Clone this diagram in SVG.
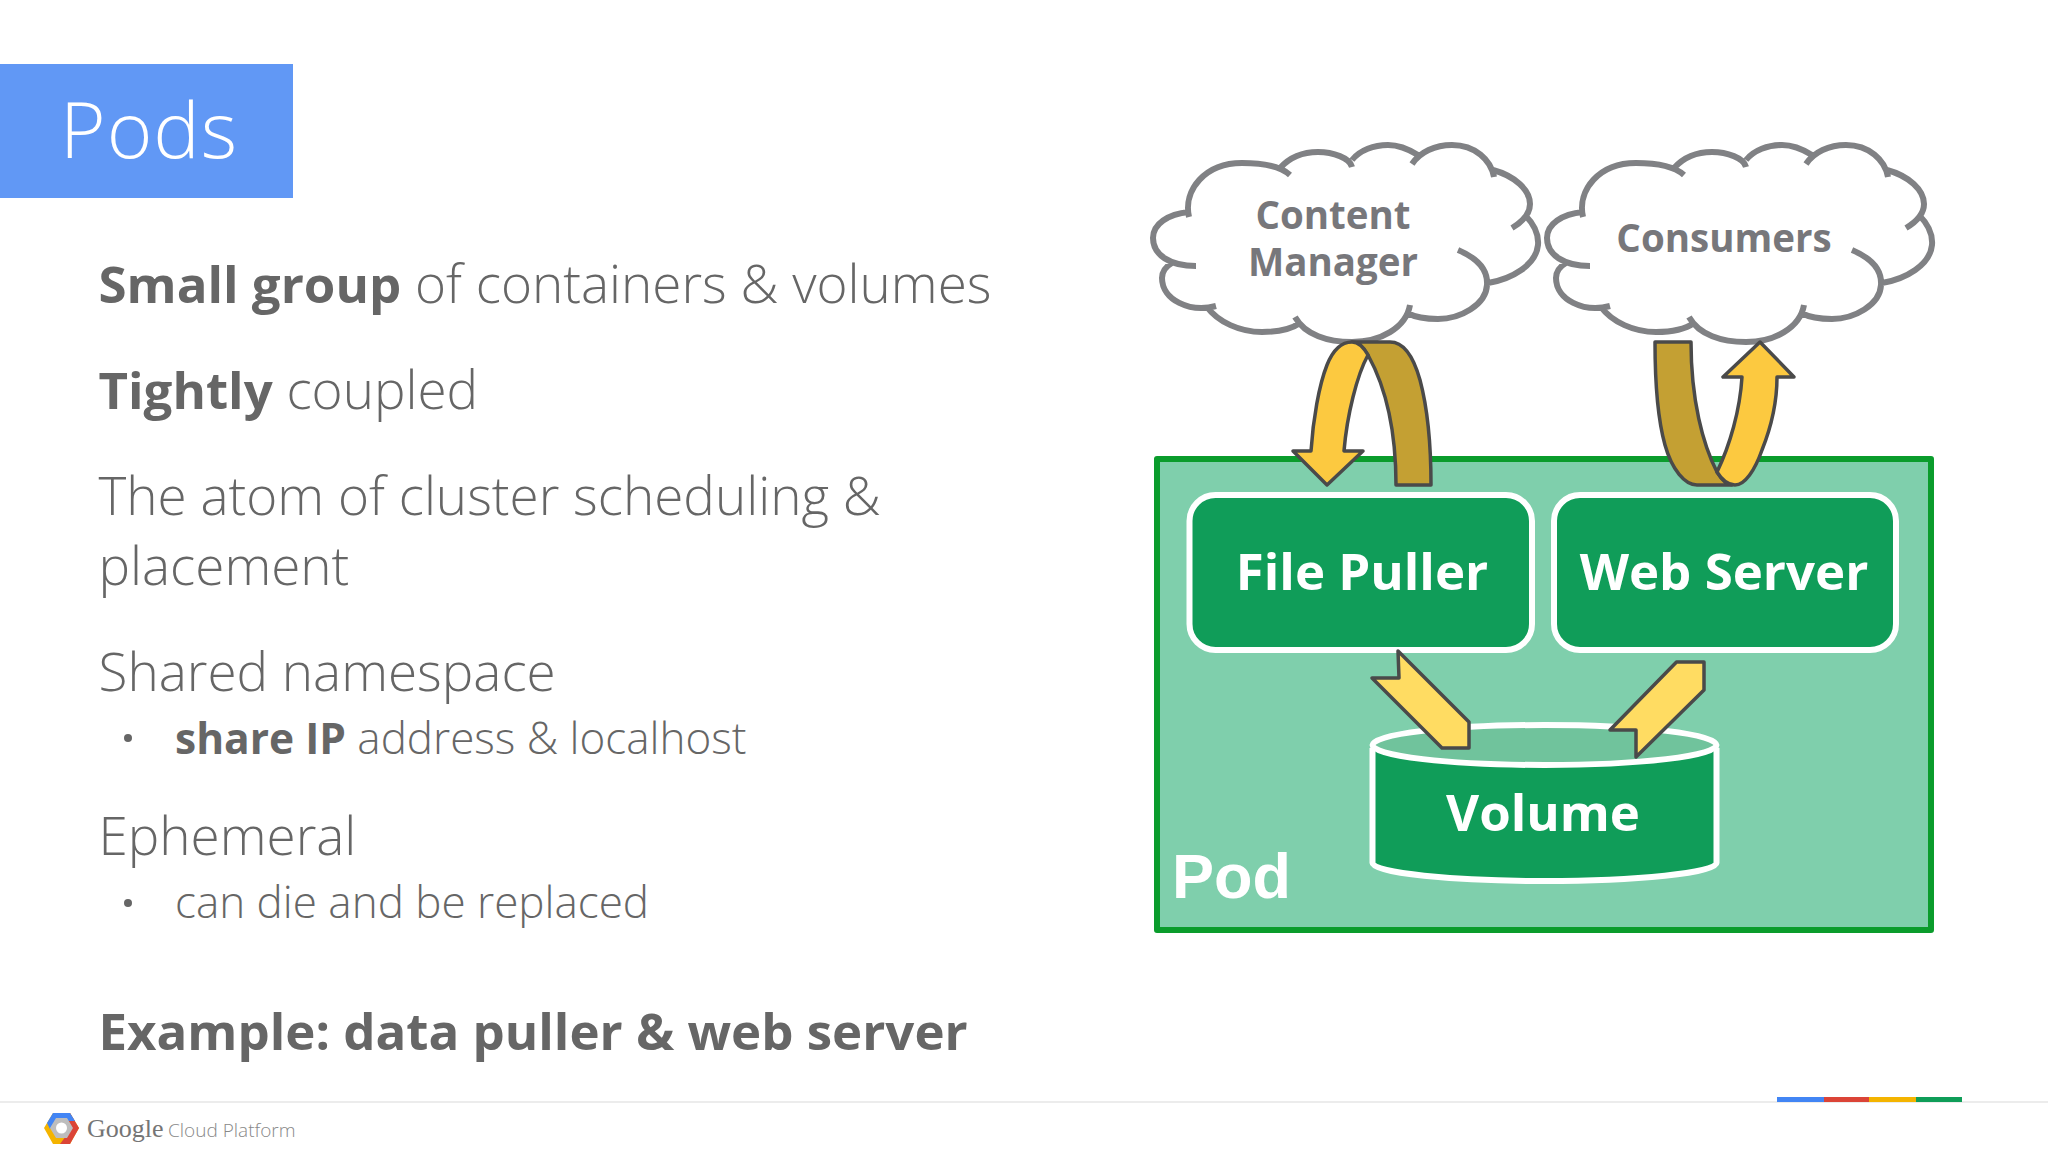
<svg xmlns="http://www.w3.org/2000/svg" width="2048" height="1153" viewBox="0 0 2048 1153">
<style>
text{font-family:"Open Sans","Liberation Sans",sans-serif}
.body{font-size:53px;fill:#666;font-weight:300}
.sub{font-size:44px;fill:#666;font-weight:300}
.bb{font-size:51px;font-weight:700}
.sb{font-size:42.500px;font-weight:700}
.cloud{fill:#fff;stroke:none}
.cl{fill:none;stroke:#808184;stroke-width:6}
.cn{font-size:38.500px;font-weight:700;fill:#77777b;text-anchor:middle}
.box{fill:#109d59;stroke:#fff;stroke-width:6}
.bt{font-size:51px;font-weight:700;fill:#fff;text-anchor:middle}
.y1{fill:#fcc940;stroke:#4a4a4a;stroke-width:3.500;stroke-linejoin:round}
.y2{fill:#c4a033;stroke:#4a4a4a;stroke-width:3.500;stroke-linejoin:round}
.y3{fill:#ffdc62;stroke:#4a4a4a;stroke-width:3.500;stroke-linejoin:round}
</style>
<defs>
<g id="cloudShape">
<path class="cloud" d="M1189 217C1183 190 1205 163 1242 163C1262 163 1272 166 1280 168C1290 157 1303 152 1318 152C1333 152 1346 155 1352 160C1360 150 1374 145 1388 145C1400 145 1410 150 1418 155C1425 149 1435 145 1452 145C1475 145 1489 155 1493 170C1515 176 1530 190 1530 204C1530 207 1528 212 1525 215C1534 224 1539 233 1538 245C1536 265 1512 279 1488 283C1486 305 1460 319 1438 319C1425 319 1415 317 1410 305C1406 328 1380 342 1352 342C1328 342 1310 335 1300 323C1290 330 1278 332 1262 332C1240 332 1225 322 1216 306C1190 313 1162 300 1162 278C1162 272 1165 267 1172 263C1160 255 1153 250 1153 238C1153 224 1168 214 1189 212Z"/>
<path class="cl" d="M1189 217C1183 190 1205 163 1242 163C1262 163 1280 166 1290 175M1280 168C1290 157 1303 152 1318 152C1333 152 1350 158 1352 167M1352 160C1360 150 1374 145 1388 145C1400 145 1410 150 1418 155M1412 164C1420 152 1435 145 1452 145C1475 145 1491 160 1494 177M1493 170C1515 176 1530 190 1530 204C1530 214 1522 222 1512 228M1525 215C1534 224 1539 233 1538 245C1536 265 1512 279 1488 283M1458 250C1477 258 1488 270 1487 285C1486 305 1460 319 1438 319C1425 319 1415 317 1407 313M1410 305C1406 328 1380 342 1352 342C1328 342 1305 335 1295 317M1300 323C1290 330 1278 332 1262 332C1240 332 1218 322 1207 307M1216 306C1190 313 1162 300 1162 278C1162 272 1165 267 1172 263M1196 266C1170 266 1153 255 1153 238C1153 224 1168 214 1189 212"/>
</g>
</defs>
<rect width="2048" height="1153" fill="#fff"/>
<g id="title"><rect x="0" y="64" width="293" height="134" fill="#6198f5"/><text x="60" y="158" font-size="78" letter-spacing="1" fill="#fff" font-weight="300">Pods</text></g>
<g id="bullets">
<text class="body" x="98.500" y="303"><tspan class="bb">Small group</tspan> of containers &amp; volumes</text>
<text class="body" x="98.500" y="409"><tspan class="bb">Tightly</tspan> coupled</text>
<text class="body" x="98.500" y="515">The atom of cluster scheduling &amp;</text>
<text class="body" x="98.500" y="585">placement</text>
<text class="body" x="98.500" y="691">Shared namespace</text>
<circle cx="128" cy="738" r="4" fill="#666"/>
<text class="sub" x="175" y="754"><tspan class="sb">share IP</tspan> address &amp; localhost</text>
<text class="body" x="98.500" y="855">Ephemeral</text>
<circle cx="128" cy="903" r="4" fill="#666"/>
<text class="sub" x="175" y="918">can die and be replaced</text>
<text class="body bb" x="98.500" y="1050">Example: data puller &amp; web server</text>
</g>
<g id="pod"><rect x="1157" y="459" width="774" height="471" fill="#7fcfac" stroke="#0a9c2c" stroke-width="6" stroke-linejoin="round"/><text x="1172" y="898" font-size="63" font-weight="700" fill="#fff" style="font-family:'Liberation Sans',sans-serif">Pod</text></g>
<g id="file-puller"><rect class="box" x="1189.500" y="495" width="342.500" height="155" rx="26"/><text class="bt" x="1362" y="590">File Puller</text></g>
<g id="web-server"><rect class="box" x="1554" y="495" width="342" height="155" rx="26"/><text class="bt" x="1724" y="590">Web Server</text></g>
<g id="volume"><path class="box" d="M1372.500 748V863C1372.500 873 1453 881 1544.500 881C1636 881 1716.500 873 1716.500 863V748"/><ellipse cx="1544.500" cy="745" rx="172" ry="20" fill="#70c39c" stroke="#fff" stroke-width="6"/><text class="bt" x="1543" y="831">Volume</text></g>
<g id="content-manager"><use href="#cloudShape"/><text class="cn" x="1333" y="229">Content</text><text class="cn" x="1333" y="276">Manager</text></g>
<g id="consumers"><use href="#cloudShape" transform="translate(394 0)"/><text class="cn" x="1724" y="252">Consumers</text></g>
<g id="connectors">
<path class="y2" d="M1352 342H1390C1403 342 1413 355 1420 380C1428 410 1431 445 1431 485H1396C1396 440 1390 395 1368 355C1364 348 1359 342 1352 342Z"/>
<path class="y1" d="M1311 451C1313 420 1319 385 1327 365C1333 350 1342 342 1352 342C1359 342 1364 348 1368 355C1357 375 1347 415 1344 451H1363L1327 485L1293 451Z"/>
<path class="y2" d="M1655 342H1691C1691 400 1703 445 1717 472C1722 480 1727 485 1732 485H1697C1685 485 1672 470 1665 445C1658 420 1655 385 1655 342Z"/>
<path class="y1" d="M1742 377C1740 410 1730 445 1717 472C1722 480 1727 485 1735 485C1745 485 1755 470 1762 450C1772 425 1777 400 1777 377H1794L1760 342L1723 377Z"/>
<path class="y3" d="M1398 651L1469 722V748H1442L1372 678H1399Z"/>
<path class="y3" d="M1676.500 662H1704V690L1636 757V730H1610Z"/>
</g>
<g id="footer">
<rect x="0" y="1101" width="2048" height="2" fill="#ececec"/>
<rect x="1777" y="1097" width="47" height="5" fill="#4285f4"/><rect x="1824" y="1097" width="45" height="5" fill="#db4437"/><rect x="1869" y="1097" width="47" height="5" fill="#f4b400"/><rect x="1916" y="1097" width="46" height="5" fill="#0f9d58"/>
<g id="logo"><path d="M44 1128L53 1113H70L79 1128L70 1144H53Z" fill="#f4b400"/><path d="M70 1113L79 1128L70 1144H60L66 1136L72 1128L68 1120Z" fill="#db4437"/><path d="M47 1123L53 1113H70L75 1121H62L54 1125L50 1129Z" fill="#4285f4"/><path d="M50 1128L56 1118H67L73 1128L67 1138H56Z" fill="#bdbdbd"/><circle cx="61.500" cy="1128" r="5.500" fill="#fff"/></g>
<text x="87" y="1137" font-size="26" fill="#757575" style="font-family:'Liberation Serif',serif">Google</text>
<text x="168" y="1137" font-size="19" fill="#888" font-weight="300">Cloud Platform</text>
</g>
</svg>
